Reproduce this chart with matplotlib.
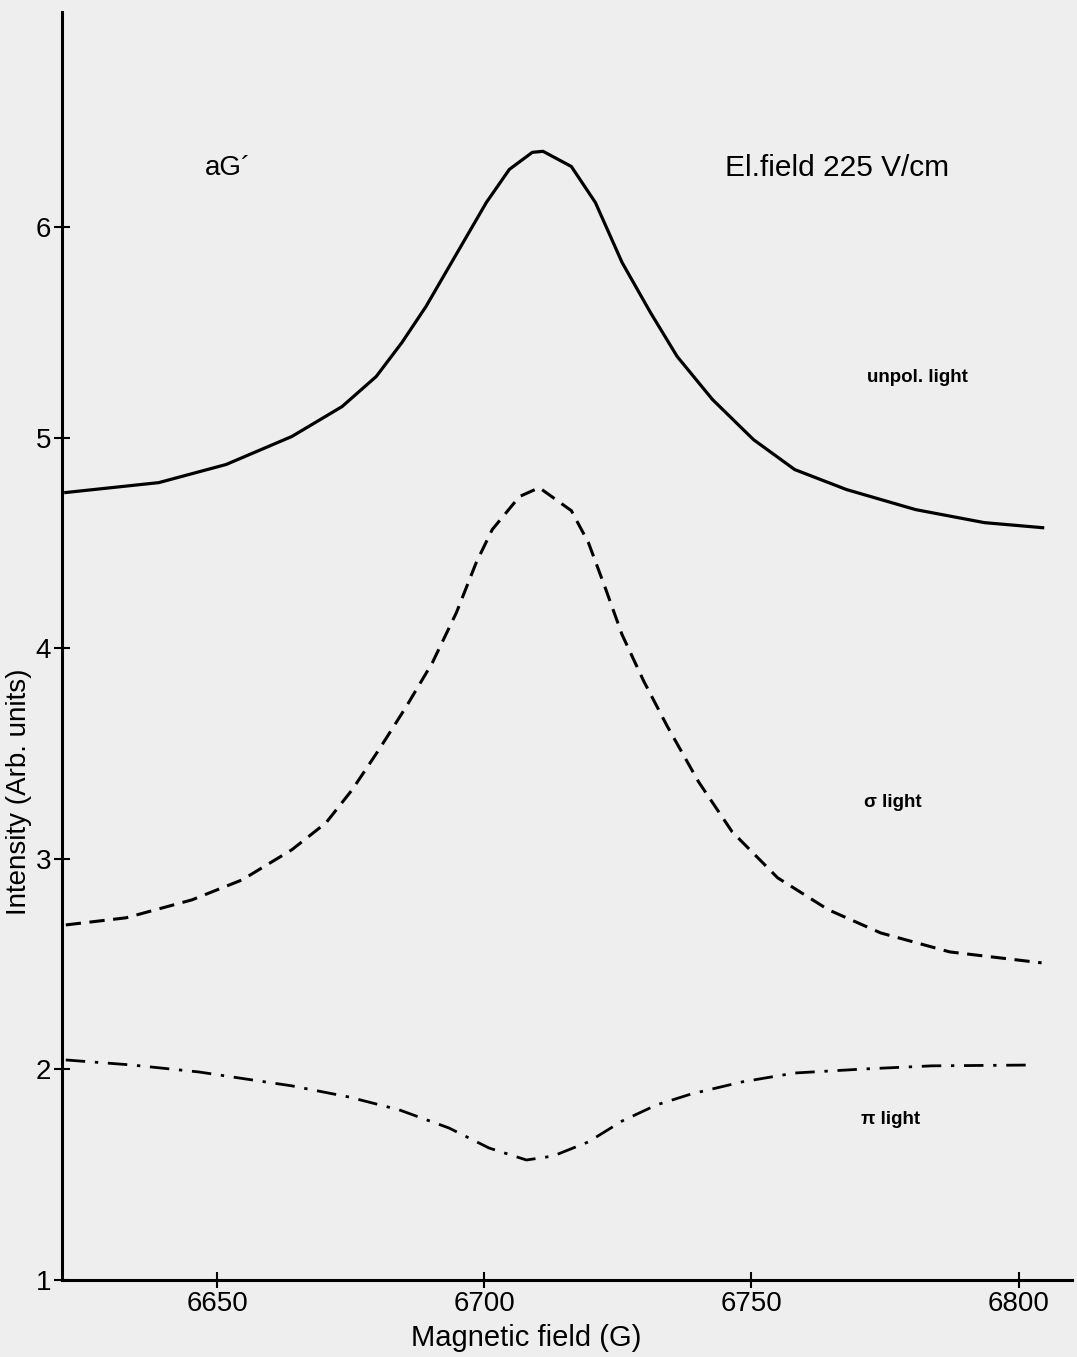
import numpy as np
import matplotlib.pyplot as plt

# values
field_u = [6621.7, 6639.1, 6651.7, 6664.0, 6673.4, 6679.8, 6684.6, 6689.1, 6695.3, 6700.4, 6704.7,
           6709.0, 6711.0, 6716.3, 6720.8, 6725.8, 6731.1, 6736.1, 6742.7, 6750.4, 6758.1, 6767.8,
           6780.7, 6793.6, 6804.5]
unpol = [4.739, 4.786, 4.872, 5.005, 5.147, 5.290, 5.451, 5.622, 5.893, 6.116, 6.273,
         6.354, 6.359, 6.287, 6.116, 5.831, 5.594, 5.385, 5.181, 4.990, 4.848, 4.753,
         4.658, 4.596, 4.572]

field_s = [6621.7, 6633.0, 6645.3, 6654.7, 6664.0, 6670.4, 6675.3, 6680.3, 6685.4, 6690.3, 6694.8,
           6698.5, 6701.5, 6706.6, 6710.3, 6716.3, 6719.5, 6722.7, 6725.8, 6729.8, 6734.3, 6740.1,
           6746.4, 6754.9, 6764.4, 6774.2, 6787.1, 6804.3]
sigma = [2.686, 2.720, 2.805, 2.900, 3.043, 3.171, 3.328, 3.518, 3.722, 3.931, 4.169,
         4.406, 4.563, 4.720, 4.762, 4.653, 4.501, 4.283, 4.064, 3.846, 3.627, 3.366,
         3.128, 2.910, 2.758, 2.648, 2.558, 2.506]

field_p = [6621.7, 6634.1, 6646.6, 6664.0, 6674.7, 6684.1, 6693.4, 6700.9, 6707.9, 6712.9,
           6719.5, 6725.8, 6732.2, 6738.8, 6748.3, 6758.1, 6771.0, 6783.7, 6802.8]
pi_l = [2.045, 2.021, 1.988, 1.922, 1.869, 1.808, 1.722, 1.627, 1.570, 1.589,
        1.656, 1.755, 1.831, 1.884, 1.941, 1.983, 2.002, 2.017, 2.021]

xticks = [6650, 6700, 6750, 6800]
yticks = [1, 2, 3, 4, 5, 6]

plt.rcParams['font.family'] = ['Liberation Sans', 'DejaVu Sans']

fig = plt.figure(figsize=(10.77, 13.57), dpi=100, facecolor='#eeeeee')
ax = fig.add_axes([0.0576, 0.0567, 0.9378, 0.9344])
ax.set_facecolor('#eeeeee')

ax.plot(field_u, unpol, color='black', lw=2.3, solid_joinstyle='round')
ax.plot(field_s, sigma, color='black', lw=2.2, linestyle=(0, (5, 2.8)))
ax.plot(field_p, pi_l, color='black', lw=2.0, linestyle=(0, (7, 3.5, 1.2, 3.5)))

ax.set_xlim(6621, 6810)
ax.set_ylim(1, 7.02)
ax.set_xticks(xticks)
ax.set_yticks(yticks)
ax.tick_params(direction='inout', length=12, width=1.5, labelsize=20, pad=2)
for s in ['top', 'right']:
    ax.spines[s].set_visible(False)
for s in ['left', 'bottom']:
    ax.spines[s].set_linewidth(2.2)

ax.set_xlabel('Magnetic field (G)', fontsize=21, labelpad=3)
ax.xaxis.set_label_coords(0.46, -0.035)
ax.set_ylabel('Intensity (Arb. units)', fontsize=20)
ax.yaxis.set_label_coords(-0.03, 0.385)

ax.text(6652, 6.28, 'aG\u00b4', fontsize=20, ha='center', va='center')
ax.text(6766, 6.28, 'El.field 225 V/cm', fontsize=21.5, ha='center', va='center')
ax.text(6781, 5.285, 'unpol. light', fontsize=13.5, fontweight='bold', ha='center', va='center')
ax.text(6776.4, 3.266, '\u03c3 light', fontsize=13.5, fontweight='bold', ha='center', va='center')
ax.text(6776, 1.76, '\u03c0 light', fontsize=13.5, fontweight='bold', ha='center', va='center')

fig.savefig('out.png', dpi=100, facecolor=fig.get_facecolor())
